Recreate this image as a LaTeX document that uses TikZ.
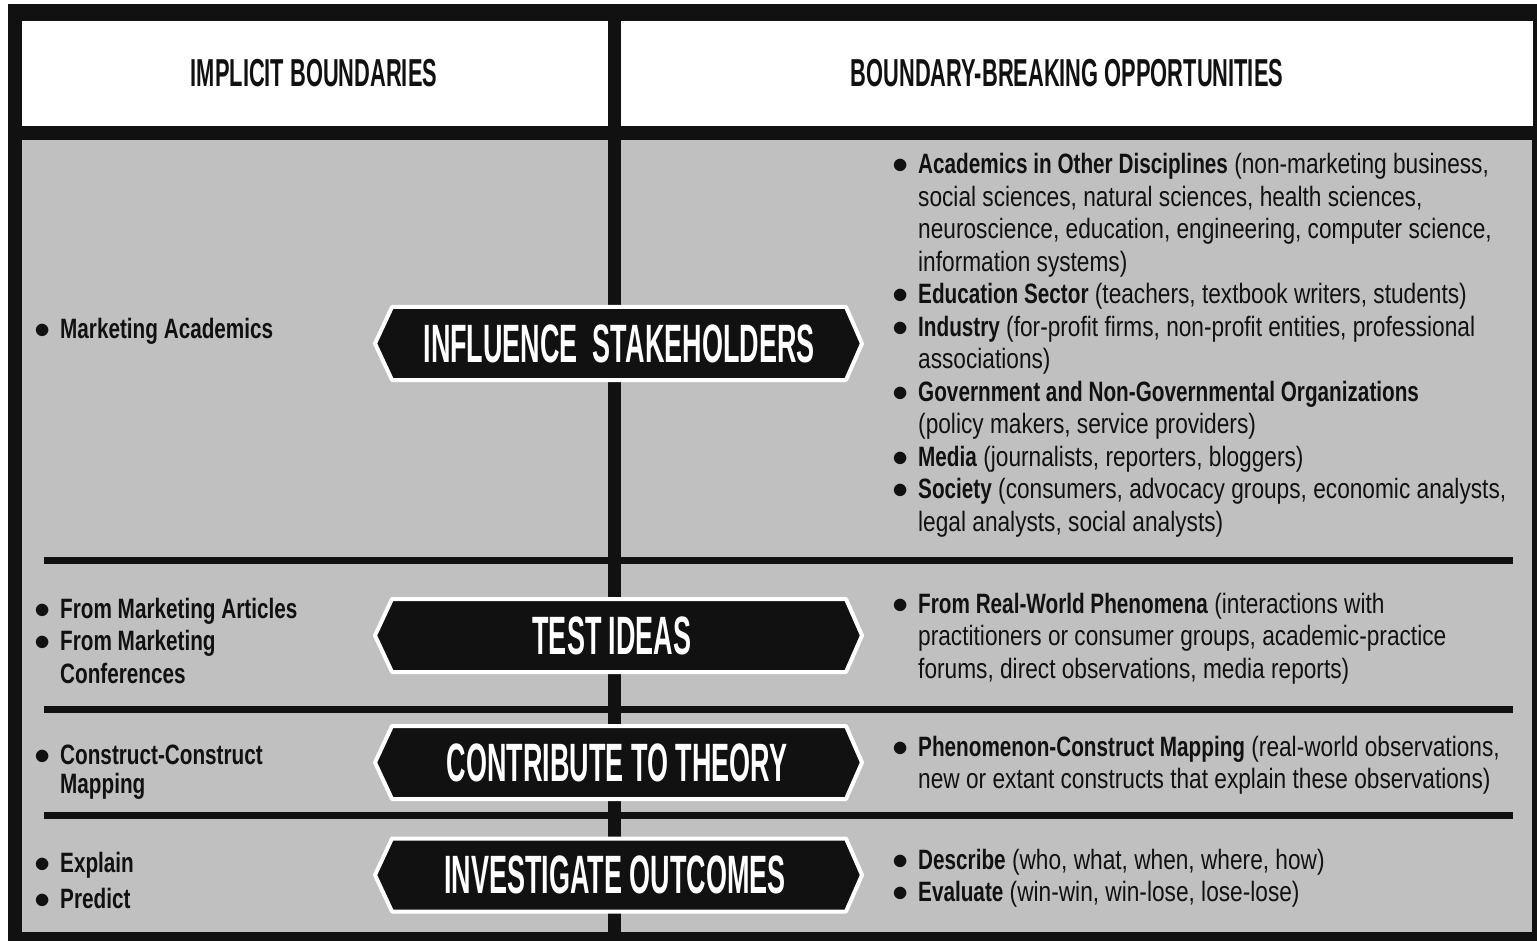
\documentclass[tikz,border=0pt]{standalone}
\usepackage{fontspec}
\setmainfont{Liberation Sans}[FakeStretch=0.81,BoldFeatures={FakeStretch=0.74}]
\newfontfamily\headfont{Liberation Sans}[FakeStretch=0.56,BoldFeatures={FakeStretch=0.56}]
\newfontfamily\signfont{Liberation Sans}[FakeStretch=0.5,BoldFeatures={FakeStretch=0.5}]
\usepackage{tikz}
\definecolor{ink}{HTML}{111111}
\definecolor{panel}{HTML}{C0C0C0}
\newcommand\bl{\makebox[25pt][l]{\hspace*{-1pt}\scalebox{1.3}{$\bullet$}}}
\newcommand\ind{\hspace*{25pt}}
\tikzset{
  outer/.style={fill=ink},
  headcell/.style={fill=white},
  cell/.style={fill=panel},
  sepline/.style={draw=ink, line width=7pt},
  banner/.style={draw=white, fill=ink, line width=4pt, line join=round},
  signtxt/.style={text=white, inner sep=0pt, font=\signfont\bfseries\fontsize{54}{60}\selectfont},
  headtxt/.style={text=ink, inner sep=0pt, font=\headfont\bfseries\fontsize{39}{44}\selectfont},
  itemtxt/.style={text=ink, anchor=base west, inner sep=0pt, font=\fontsize{28}{32.5}\selectfont},
}

\begin{document}
\begin{tikzpicture}[x=1pt, y=-1pt]
  \useasboundingbox (0,0) rectangle (1537,941);
  \fill[white] (0,0) rectangle (1537,941);
  \fill[outer] (8,4) rectangle (1537,941);
  \fill[headcell] (22,21) rectangle (608,126);
  \fill[headcell] (621,21) rectangle (1533,126);
  \fill[cell] (22,140) rectangle (608,932);
  \fill[cell] (621,140) rectangle (1532,932);
  \draw[sepline] (44,560.5) -- (1513,560.5);
  \draw[sepline] (44,709) -- (1513,709);
  \draw[sepline] (44,815) -- (1513,815);

  \node[headtxt] (implicit) at (314,73) {IMPLICIT BOUNDARIES};
  \node[headtxt] (breaking) at (1067,73) {BOUNDARY-BREAKING OPPORTUNITIES};

  \foreach \y in {343.5,635.5,762.5,875} {
    \draw[banner] (392,\y-36.5) -- (846,\y-36.5) -- (862,\y) -- (846,\y+36.5)
      -- (392,\y+36.5) -- (375,\y) -- cycle;
  }
  \node[signtxt] (stakeholders) at (619,343.5) {INFLUENCE\ \ STAKEHOLDERS};
  \node[signtxt] (ideas) at (612,635.5) {TEST IDEAS};
  \node[signtxt] (theory) at (617,762.5) {CONTRIBUTE TO THEORY};
  \node[signtxt] (outcomes) at (615,875) {INVESTIGATE OUTCOMES};

  \node[itemtxt] (stakeL) at (35,338) {\begin{tabular}[t]{@{}l@{}}
    \bl\textbf{Marketing Academics}
  \end{tabular}};
  \node[itemtxt] (ideasL) at (35,618) {\begin{tabular}[t]{@{}l@{}}
    \bl\textbf{From Marketing Articles}\\
    \bl\textbf{From Marketing}\\
    \ind\textbf{Conferences}
  \end{tabular}};
  \node[itemtxt] (theoryL) at (35,764) {\begin{tabular}[t]{@{}l@{}}
    \bl\textbf{Construct-Construct}\\[-3.5pt]
    \ind\textbf{Mapping}
  \end{tabular}};
  \node[itemtxt, font=\fontsize{28}{36}\selectfont] (outcomesL) at (35,872) {\begin{tabular}[t]{@{}l@{}}
    \bl\textbf{Explain}\\
    \bl\textbf{Predict}
  \end{tabular}};

  \node[itemtxt] (stakeR) at (893,174) {\begin{tabular}[t]{@{}l@{}}
    \bl\textbf{Academics in Other Disciplines} (non-marketing business,\\
    \ind social sciences, natural sciences, health sciences,\\
    \ind neuroscience, education, engineering, computer science,\\
    \ind information systems)\\
    \bl\textbf{Education Sector} (teachers, textbook writers, students)\\
    \bl\textbf{Industry} (for-profit firms, non-profit entities, professional\\
    \ind associations)\\
    \bl\textbf{Government and Non-Governmental Organizations}\\
    \ind (policy makers, service providers)\\
    \bl\textbf{Media} (journalists, reporters, bloggers)\\
    \bl\textbf{Society} (consumers, advocacy groups, economic analysts,\\
    \ind legal analysts, social analysts)
  \end{tabular}};
  \node[itemtxt] (ideasR) at (893,613) {\begin{tabular}[t]{@{}l@{}}
    \bl\textbf{From Real-World Phenomena} (interactions with\\
    \ind practitioners or consumer groups, academic-practice\\
    \ind forums, direct observations, media reports)
  \end{tabular}};
  \node[itemtxt] (theoryR) at (893,756) {\begin{tabular}[t]{@{}l@{}}
    \bl\textbf{Phenomenon-Construct Mapping} (real-world observations,\\
    \ind new or extant constructs that explain these observations)
  \end{tabular}};
  \node[itemtxt] (outcomesR) at (893,869) {\begin{tabular}[t]{@{}l@{}}
    \bl\textbf{Describe} (who, what, when, where, how)\\
    \bl\textbf{Evaluate} (win-win, win-lose, lose-lose)
  \end{tabular}};
\end{tikzpicture}
\end{document}
